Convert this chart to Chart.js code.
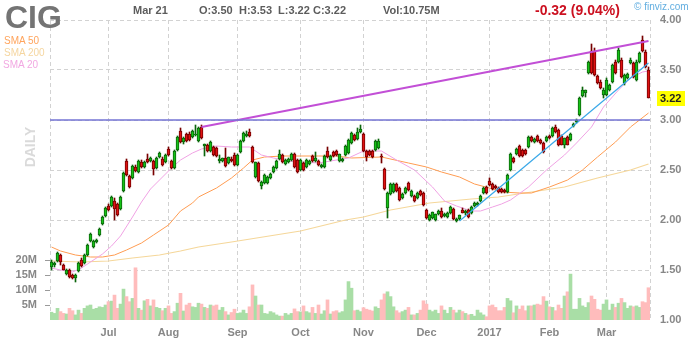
<!DOCTYPE html>
<html>
<head>
<meta charset="utf-8">
<script src="https://cdn.jsdelivr.net/npm/chart.js@4.4.1/dist/chart.umd.min.js"></script>
<style>
  body { margin: 0; background: #fff; }
  #wrap { position: relative; width: 700px; height: 340px; font-family: Arial, "Liberation Sans", sans-serif; }
  #wrap canvas { position: absolute; left: 0; top: 0; }
  .t { position: absolute; white-space: nowrap; line-height: 1; }
  .hd { font-size: 11px; font-weight: bold; color: #5c5c5c; top: 5px; }
</style>
</head>
<body>
<div id="wrap">
  <canvas id="c" width="700" height="340"></canvas>
  <div class="t" style="left:5px;top:1px;font-size:32px;font-weight:bold;color:#747474;">CIG</div>
  <div class="t" style="left:4px;top:36px;font-size:10px;color:#ffa45c;">SMA 50</div>
  <div class="t" style="left:4px;top:48px;font-size:10px;color:#f5d6a0;">SMA 200</div>
  <div class="t" style="left:3px;top:60px;font-size:10px;color:#f2a8e2;">SMA 20</div>
  <div class="t" style="left:0;top:140px;width:60px;text-align:center;font-size:14px;font-weight:bold;color:#dadada;transform:rotate(-90deg);">DAILY</div>
  <div class="t hd" style="left:133px;">Mar 21</div>
  <div class="t hd" style="left:199px;">O:3.50</div>
  <div class="t hd" style="left:239px;">H:3.53</div>
  <div class="t hd" style="left:278px;">L:3.22</div>
  <div class="t hd" style="left:313px;">C:3.22</div>
  <div class="t hd" style="left:383px;">Vol:10.75M</div>
  <div class="t" style="left:535px;top:3px;font-size:14px;font-weight:bold;color:#cc1020;">-0.32 (9.04%)</div>
  <div class="t" style="left:634px;top:2px;font-size:10px;color:#62aee0;">© finviz.com</div>
</div>
<script>
// Daily bars, Jun 2016 – Mar 21 2017 (index 0 = first session shown)
const opens = [
  1.53,1.55,1.59,1.65,1.55,1.46,1.50,1.45,1.42,1.49,
  1.60,1.57,1.65,1.79,1.73,1.78,1.85,1.96,2.04,2.14,
  2.14,2.19,2.16,2.11,2.29,2.59,2.44,2.42,2.53,2.48,
  2.58,2.53,2.61,2.59,2.59,2.52,2.63,2.61,2.58,2.71,
  2.59,2.52,2.70,2.89,2.78,2.86,2.86,2.83,2.85,2.79,
  2.93,2.74,2.75,2.69,2.73,2.72,2.59,2.59,2.62,2.57,
  2.61,2.65,2.55,2.68,2.79,2.84,2.88,2.73,2.43,2.57,
  2.34,2.37,2.37,2.42,2.48,2.52,2.61,2.65,2.56,2.58,
  2.60,2.66,2.60,2.50,2.57,2.53,2.56,2.64,2.59,2.59,
  2.53,2.53,2.69,2.60,2.68,2.69,2.59,2.59,2.65,2.67,
  2.77,2.85,2.81,2.88,2.86,2.69,2.69,2.69,2.70,2.72,
  2.64,2.51,2.12,2.26,2.28,2.36,2.32,2.22,2.27,2.37,
  2.24,2.24,2.22,2.29,2.27,2.10,2.00,2.02,2.00,2.06,
  2.09,2.04,2.03,2.07,2.11,1.99,2.01,2.10,2.07,2.10,
  2.07,2.14,2.15,2.19,2.27,2.33,2.39,2.36,2.34,2.32,
  2.31,2.30,2.28,2.50,2.62,2.66,2.74,2.70,2.70,2.73,
  2.83,2.78,2.84,2.80,2.77,2.79,2.84,2.84,2.93,2.90,
  2.84,2.75,2.83,2.80,2.94,2.98,3.05,3.24,3.27,3.47,
  3.69,3.69,3.44,3.38,3.25,3.25,3.30,3.38,3.58,3.58,
  3.60,3.37,3.42,3.57,3.57,3.40,3.58,3.80,3.68,3.50
];
const highs = [
  1.60,1.58,1.68,1.66,1.56,1.51,1.51,1.46,1.46,1.58,
  1.62,1.66,1.76,1.87,1.80,1.81,1.92,2.04,2.13,2.16,
  2.24,2.22,2.17,2.24,2.48,2.61,2.45,2.55,2.55,2.60,
  2.60,2.59,2.66,2.63,2.60,2.63,2.68,2.63,2.66,2.73,
  2.60,2.70,2.84,2.92,2.83,2.87,2.88,2.90,2.95,2.93,
  2.95,2.76,2.76,2.79,2.74,2.73,2.65,2.62,2.72,2.63,
  2.63,2.67,2.66,2.80,2.88,2.89,2.91,2.74,2.58,2.58,
  2.39,2.46,2.44,2.47,2.54,2.60,2.70,2.66,2.61,2.62,
  2.67,2.67,2.61,2.61,2.58,2.61,2.60,2.65,2.68,2.60,
  2.56,2.65,2.73,2.65,2.69,2.70,2.66,2.62,2.75,2.81,
  2.88,2.86,2.92,2.95,2.87,2.70,2.70,2.70,2.80,2.81,
  2.66,2.52,2.28,2.37,2.37,2.37,2.33,2.27,2.33,2.38,
  2.30,2.25,2.28,2.30,2.28,2.11,2.06,2.08,2.06,2.10,
  2.12,2.07,2.08,2.14,2.12,2.02,2.05,2.12,2.10,2.11,
  2.14,2.18,2.18,2.25,2.33,2.34,2.42,2.37,2.35,2.33,
  2.32,2.31,2.46,2.67,2.63,2.72,2.75,2.71,2.71,2.84,
  2.84,2.82,2.85,2.81,2.78,2.84,2.85,2.93,2.95,2.91,
  2.85,2.82,2.84,2.87,2.97,3.01,3.23,3.33,3.30,3.59,
  3.76,3.72,3.45,3.40,3.32,3.42,3.36,3.56,3.60,3.72,
  3.62,3.46,3.47,3.62,3.58,3.60,3.68,3.84,3.70,3.53
];
const lows = [
  1.50,1.53,1.58,1.55,1.50,1.45,1.42,1.41,1.38,1.48,
  1.53,1.56,1.64,1.78,1.72,1.77,1.84,1.95,2.03,2.09,
  2.13,2.00,2.04,2.10,2.28,2.44,2.32,2.41,2.48,2.47,
  2.52,2.52,2.57,2.58,2.45,2.51,2.62,2.54,2.57,2.64,
  2.51,2.51,2.69,2.77,2.76,2.78,2.79,2.82,2.84,2.78,
  2.81,2.64,2.68,2.68,2.64,2.63,2.57,2.58,2.53,2.56,
  2.58,2.54,2.54,2.67,2.78,2.83,2.83,2.57,2.42,2.38,
  2.31,2.36,2.36,2.41,2.47,2.51,2.60,2.57,2.55,2.57,
  2.59,2.52,2.47,2.49,2.49,2.52,2.55,2.58,2.58,2.54,
  2.52,2.52,2.62,2.59,2.63,2.64,2.58,2.58,2.64,2.66,
  2.76,2.79,2.80,2.87,2.68,2.59,2.64,2.62,2.69,2.71,
  2.57,2.30,2.02,2.25,2.27,2.28,2.19,2.21,2.26,2.29,
  2.23,2.18,2.21,2.24,2.14,2.01,1.99,2.01,1.99,2.05,
  2.02,2.03,2.02,2.06,2.00,1.98,2.00,2.07,2.05,2.02,
  2.06,2.13,2.14,2.18,2.26,2.26,2.34,2.30,2.31,2.27,
  2.27,2.27,2.27,2.49,2.57,2.65,2.63,2.63,2.65,2.72,
  2.78,2.77,2.78,2.76,2.67,2.78,2.81,2.83,2.87,2.74,
  2.75,2.72,2.75,2.79,2.93,2.97,3.04,3.23,3.23,3.46,
  3.46,3.44,3.36,3.31,3.22,3.24,3.29,3.37,3.46,3.57,
  3.42,3.35,3.41,3.56,3.42,3.39,3.57,3.68,3.52,3.22
];
const closes = [
  1.58,1.57,1.67,1.58,1.50,1.50,1.43,1.42,1.45,1.57,
  1.54,1.65,1.75,1.86,1.79,1.80,1.91,2.03,2.12,2.10,
  2.23,2.11,2.05,2.23,2.47,2.45,2.33,2.54,2.49,2.59,
  2.53,2.58,2.58,2.62,2.51,2.62,2.67,2.55,2.65,2.65,
  2.52,2.69,2.83,2.78,2.82,2.79,2.80,2.89,2.86,2.92,
  2.82,2.76,2.69,2.78,2.65,2.64,2.61,2.62,2.54,2.63,
  2.59,2.55,2.65,2.79,2.87,2.86,2.84,2.58,2.58,2.39,
  2.38,2.45,2.43,2.46,2.53,2.59,2.66,2.58,2.60,2.61,
  2.66,2.53,2.48,2.60,2.50,2.60,2.59,2.59,2.62,2.55,
  2.55,2.64,2.63,2.64,2.64,2.65,2.66,2.61,2.74,2.80,
  2.87,2.80,2.88,2.91,2.69,2.63,2.65,2.63,2.79,2.79,
  2.63,2.31,2.27,2.36,2.36,2.29,2.20,2.26,2.32,2.30,
  2.29,2.19,2.27,2.25,2.15,2.02,2.05,2.08,2.06,2.09,
  2.03,2.06,2.07,2.13,2.01,2.01,2.05,2.07,2.09,2.03,
  2.13,2.17,2.17,2.24,2.32,2.27,2.35,2.31,2.32,2.28,
  2.28,2.28,2.45,2.66,2.58,2.71,2.64,2.64,2.66,2.83,
  2.79,2.81,2.79,2.77,2.68,2.83,2.82,2.92,2.88,2.75,
  2.75,2.82,2.75,2.86,2.96,3.00,3.22,3.30,3.30,3.58,
  3.47,3.45,3.37,3.32,3.30,3.40,3.35,3.55,3.47,3.70,
  3.43,3.45,3.46,3.60,3.43,3.58,3.67,3.69,3.53,3.22
];
// Daily volume, millions of shares
const volumes = [
  2.6,2.2,3.9,2.8,2.2,2.0,3.9,3.1,1.7,3.3,
  2.2,3.9,4.7,5.0,3.6,3.9,4.4,4.2,5.0,6.1,
  6.3,8.3,3.9,5.3,10.3,7.8,6.1,7.2,17.4,3.9,
  3.3,6.4,6.9,4.7,6.7,4.2,3.9,3.1,3.9,4.7,
  2.2,2.8,5.6,8.9,3.0,5.0,5.6,4.4,4.2,5.6,
  5.3,4.2,3.9,5.0,4.7,5.0,3.3,4.2,2.8,1.7,
  2.5,3.6,2.2,2.4,3.3,2.2,4.4,11.7,8.0,5.0,
  5.0,2.2,2.0,2.8,2.4,1.7,1.3,1.3,2.2,1.7,
  2.2,3.7,2.8,2.7,4.7,2.8,2.4,4.2,2.2,5.0,
  2.0,3.1,6.7,2.0,2.8,3.1,2.4,2.8,6.7,12.8,
  10.6,3.1,3.3,2.8,4.1,3.6,3.3,3.0,4.4,3.9,
  6.7,8.7,9.4,7.8,4.4,3.1,2.4,2.8,3.3,4.2,
  1.7,1.7,2.2,3.3,6.4,5.3,3.3,2.8,3.3,2.2,
  4.7,3.3,2.2,4.2,3.3,2.4,3.3,2.8,2.2,1.7,
  1.9,1.3,3.3,2.4,1.7,1.1,4.7,5.0,4.2,3.1,
  3.1,4.2,7.2,6.4,2.4,4.7,3.6,4.7,3.1,4.7,
  4.7,5.0,5.3,5.0,7.8,6.3,4.4,4.2,3.1,5.0,
  3.9,8.0,9.4,15.3,3.6,3.6,7.2,4.7,4.2,5.8,
  8.0,6.9,3.6,3.3,5.3,6.7,3.3,5.3,4.2,5.6,
  7.2,5.8,3.9,4.7,4.4,4.7,4.2,6.1,5.8,10.75
];
// Moving averages as [session index, value]
const sma20 = [[0,1.52],[3,1.50],[7,1.48],[10,1.52],[13,1.58],[17,1.66],[20,1.74],[23,1.84],[27,2.03],[30,2.18],[33,2.31],[37,2.43],[40,2.52],[43,2.60],[47,2.67],[50,2.71],[55,2.74],[60,2.73],[66,2.73],[70,2.65],[74,2.62],[79,2.59],[83,2.58],[89,2.57],[93,2.59],[99,2.62],[104,2.69],[110,2.69],[115,2.60],[121,2.50],[127,2.33],[131,2.19],[135,2.14],[140,2.09],[143,2.09],[147,2.13],[150,2.16],[153,2.20],[159,2.33],[165,2.50],[171,2.65],[175,2.77],[180,2.93],[184,3.13],[189,3.30],[193,3.42],[197,3.48],[199,3.49]];
const sma50 = [[0,1.73],[3,1.69],[8,1.65],[13,1.63],[17,1.63],[21,1.65],[25,1.70],[30,1.77],[34,1.85],[39,1.95],[43,2.09],[47,2.17],[49,2.23],[55,2.32],[60,2.42],[64,2.52],[67,2.60],[71,2.63],[77,2.64],[89,2.64],[95,2.64],[100,2.62],[110,2.63],[119,2.57],[125,2.53],[130,2.48],[136,2.43],[141,2.36],[146,2.32],[150,2.28],[156,2.27],[160,2.27],[166,2.33],[172,2.40],[177,2.50],[182,2.63],[188,2.78],[193,2.93],[199,3.07]];
const sma200 = [[0,1.59],[10,1.58],[19,1.59],[27,1.62],[36,1.65],[43,1.69],[49,1.73],[60,1.78],[83,1.89],[98,2.00],[104,2.03],[113,2.10],[126,2.17],[140,2.21],[149,2.23],[160,2.28],[171,2.33],[182,2.42],[193,2.50],[199,2.56]];
// Trend lines and the horizontal level
const resistanceTrend = [[50,2.93],[199,3.79]];
const supportTrend = [[136,1.99],[199,3.57]];
const levelLine = 3.00;
// Month ticks: [session index, label]
const monthTicks = [[19,'Jul'],[39,'Aug'],[62,'Sep'],[83,'Oct'],[104,'Nov'],[125,'Dec'],[146,'2017'],[166,'Feb'],[185,'Mar']];
const priceTicks = [1.0,1.5,2.0,2.5,3.0,3.5,4.0];
const volumeTicks = [5,10,15,20];

const N = closes.length;
const labels = closes.map((_, i) => i);
const up = closes.map((c, i) => c >= opens[i]);
const sparse = pts => { const a = new Array(N).fill(null); pts.forEach(([i, v]) => { a[i] = v; }); return a; };
const monthLabel = {}; monthTicks.forEach(([i, l]) => { monthLabel[i] = l; });

const AXIS_FONT = { family: 'Arial, "Liberation Sans", sans-serif', size: 11, weight: 'bold' };
const GRID = '#d2d2d2';

const overlay = {
  id: 'overlay',
  beforeDatasetsDraw(chart) {
    const { ctx, chartArea: a } = chart;
    ctx.save();
    ctx.strokeStyle = GRID; ctx.lineWidth = 1; ctx.setLineDash([4, 3]);
    [a.left, a.right].forEach(x => {
      ctx.beginPath(); ctx.moveTo(x + 0.5, a.top); ctx.lineTo(x + 0.5, a.bottom); ctx.stroke();
    });
    ctx.restore();
  },
  afterDatasetsDraw(chart) {
    const { ctx, chartArea: a } = chart;
    const y = chart.scales.y;
    ctx.save();
    // horizontal level
    const ly = y.getPixelForValue(levelLine);
    ctx.strokeStyle = '#7474d4'; ctx.lineWidth = 1.5;
    ctx.beginPath(); ctx.moveTo(a.left, ly); ctx.lineTo(a.right, ly); ctx.stroke();
    // last price tag
    const last = closes[N - 1];
    const py = Math.round(y.getPixelForValue(last));
    ctx.fillStyle = '#ffff00';
    ctx.fillRect(a.right + 7, py - 7, 28, 15);
    ctx.fillStyle = '#222';
    ctx.font = 'bold 11px Arial, "Liberation Sans", sans-serif';
    ctx.textAlign = 'left'; ctx.textBaseline = 'middle';
    ctx.fillText(last.toFixed(2), a.right + 10, py + 1);
    ctx.restore();
  }
};

new Chart(document.getElementById('c'), {
  type: 'bar',
  data: {
    labels,
    datasets: [
      { type: 'line', data: sparse(resistanceTrend), yAxisID: 'y', borderColor: '#c24fd6', borderWidth: 2, pointRadius: 0, spanGaps: true, order: 0 },
      { type: 'line', data: sparse(supportTrend), yAxisID: 'y', borderColor: '#3aa8e8', borderWidth: 1.2, pointRadius: 0, spanGaps: true, order: 0 },
      { data: opens.map((o, i) => [o, closes[i]]), yAxisID: 'y', grouped: false, barThickness: 3, borderWidth: 1, borderSkipped: false,
        backgroundColor: up.map(u => u ? '#16c216' : '#de1212'), borderColor: up.map(u => u ? '#0b650b' : '#780000'), order: 1 },
      { data: lows.map((l, i) => [l, highs[i]]), yAxisID: 'y', grouped: false, barThickness: 1, borderWidth: 0,
        backgroundColor: up.map(u => u ? '#0b650b' : '#780000'), order: 2 },
      { type: 'line', data: sparse(sma20), yAxisID: 'y', borderColor: '#f0a2e4', borderWidth: 1, pointRadius: 0, spanGaps: true, order: 3 },
      { type: 'line', data: sparse(sma50), yAxisID: 'y', borderColor: '#ff9c52', borderWidth: 1, pointRadius: 0, spanGaps: true, order: 3 },
      { type: 'line', data: sparse(sma200), yAxisID: 'y', borderColor: '#f5d79a', borderWidth: 1.2, pointRadius: 0, spanGaps: true, order: 3 },
      { data: volumes.map(v => v * 1e6), yAxisID: 'vol', grouped: false, barThickness: 3, borderWidth: 0,
        backgroundColor: up.map(u => u ? '#a9dea6' : '#ffbcbc'), order: 10 }
    ]
  },
  options: {
    responsive: false,
    animation: false,
    devicePixelRatio: 1,
    layout: { padding: { top: 20, left: 0, right: 0, bottom: 0 } },
    plugins: { legend: { display: false }, tooltip: { enabled: false } },
    scales: {
      x: {
        type: 'category', offset: true,
        grid: { offset: false, color: GRID, drawTicks: false },
        border: { display: false, dash: [4, 3] },
        ticks: { autoSkip: false, maxRotation: 0, padding: 6, font: AXIS_FONT, color: '#878787', callback: v => monthLabel[v] },
        afterBuildTicks: s => { s.ticks = monthTicks.map(([i]) => ({ value: i })); },
        afterFit: s => { s.height = 20; }
      },
      y: {
        type: 'linear', position: 'right', min: 1, max: 4,
        grid: { color: c => (c.tick && c.tick.value === 1) ? 'rgba(0,0,0,0)' : GRID, drawTicks: false },
        border: { display: false, dash: [4, 3] },
        ticks: { padding: 10, font: AXIS_FONT, color: '#878787', callback: v => Number(v).toFixed(2) },
        afterBuildTicks: s => { s.ticks = priceTicks.map(v => ({ value: v })); },
        afterFit: s => { s.width = 50; }
      },
      vol: {
        type: 'linear', axis: 'y', position: 'left', min: 0, max: 100e6,
        grid: { drawOnChartArea: false, drawTicks: true, tickLength: 5, color: '#9a9a9a' },
        border: { display: false },
        ticks: { padding: 8, font: AXIS_FONT, color: '#878787', callback: v => (v / 1e6) + 'M' },
        afterBuildTicks: s => { s.ticks = volumeTicks.map(v => ({ value: v * 1e6 })); },
        afterFit: s => { s.width = 50; }
      }
    }
  },
  plugins: [overlay]
});
</script>
</body>
</html>
